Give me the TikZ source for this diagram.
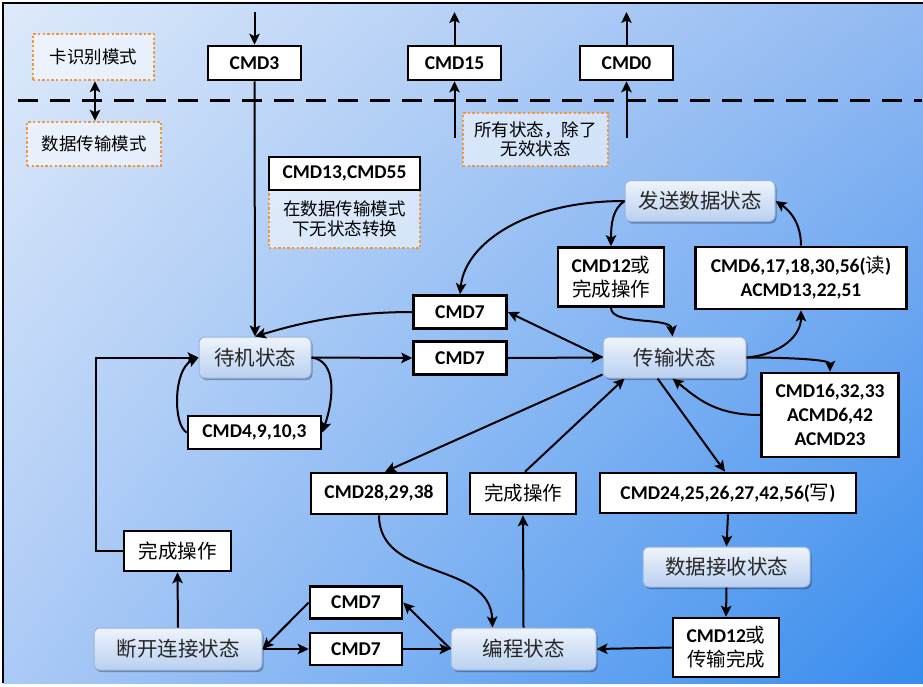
\documentclass[tikz,border=0pt]{standalone}
\usepackage{fontspec}
\setmainfont{Carlito}
\newfontfamily\cjk{Noto Sans CJK SC}
\newcommand\zh[1]{{\cjk\mdseries #1}}
\usetikzlibrary{arrows.meta,shadows,calc,shadings}
\definecolor{bgUL}{RGB}{222,234,250}
\definecolor{bgUR}{RGB}{145,185,242}
\definecolor{bgLL}{RGB}{172,202,246}
\definecolor{bgLR}{RGB}{55,140,238}
\definecolor{sttop}{RGB}{238,244,252}
\definecolor{stbot}{RGB}{186,208,240}
\definecolor{stbord}{RGB}{150,180,222}
\definecolor{notec}{RGB}{242,150,60}
\begin{document}
\begin{tikzpicture}[x=1pt,y=-1pt,
  lab/.style={draw=black, line width=2.6pt, fill=white, inner sep=0pt, align=center,
    font=\bfseries\fontsize{19.5}{24}\selectfont},
  state/.style={rounded corners=6pt, draw=stbord, line width=1pt, top color=sttop, bottom color=stbot,
    drop shadow={shadow xshift=1.5pt,shadow yshift=-2pt,opacity=0.3,fill=black},
    inner sep=0pt, font=\cjk\fontsize{20.5}{24}\selectfont, text=black!85},
  note/.style={draw=notec, line width=2.4pt, dash pattern=on 2.4pt off 2.2pt, fill=white,
    fill opacity=0.55, text opacity=1, inner sep=0pt, align=center,
    font=\cjk\fontsize{17.5}{19.5}\selectfont},
  arr/.style={line width=2pt, -{Stealth[length=11pt,width=10.5pt,inset=2.5pt]}},
  dbl/.style={line width=2pt, {Stealth[length=11pt,width=10.5pt,inset=2.5pt]}-{Stealth[length=11pt,width=10.5pt,inset=2.5pt]}}
]
\useasboundingbox (0,0) rectangle (923,686);
\fill[white] (0,0) rectangle (923,686);
\shade[upper left=bgUL, upper right=bgUR, lower left=bgLL, lower right=bgLR] (3,3) rectangle (923,683);
\draw[line width=1.5pt] (3,683) -- (3,3) -- (923,3);

% mode separator
\draw[line width=3pt, dash pattern=on 20pt off 12pt] (18,100) -- (922,100);

% notes
\node[note, minimum width=121pt, minimum height=46pt] (mcard) at (93.5,57) {卡识别模式};
\node[note, minimum width=134pt, minimum height=44pt] (mdata) at (94,144) {数据传输模式};
\draw[dbl] ($(mcard.south)+(1.5,0)$) -- ($(mdata.north)+(1,0)$);
\node[note, minimum width=145pt, minimum height=53pt] (allst) at (535.5,139.5) {所有状态，除了\\无效状态};
\node[note, minimum width=151pt, minimum height=58pt] (nost) at (344.5,219) {在数据传输模式\\下无状态转换};
\node[lab, minimum width=151pt, minimum height=33pt] (c1355) at (344.5,173.5) {CMD13,CMD55};

% states
\node[state, minimum width=150pt, minimum height=41pt] (send) at (700,201) {发送数据状态};
\node[state, minimum width=143pt, minimum height=41pt] (trans) at (674.5,357.5) {传输状态};
\node[state, minimum width=112pt, minimum height=41pt] (standby) at (255,357.5) {待机状态};
\node[state, minimum width=167pt, minimum height=40pt] (recv) at (726.5,567) {数据接收状态};
\node[state, minimum width=145pt, minimum height=42pt] (prog) at (523.5,649) {编程状态};
\node[state, minimum width=168pt, minimum height=42pt] (disc) at (178,649) {断开连接状态};

% top commands
\node[lab, minimum width=93pt, minimum height=34pt] (cmd3) at (254.5,63) {CMD3};
\node[lab, minimum width=93pt, minimum height=34pt] (cmd15) at (454.5,63) {CMD15};
\node[lab, minimum width=93pt, minimum height=34pt] (cmd0) at (626.5,63) {CMD0};
\coordinate (t3) at (254.5,12);
\coordinate (t15) at (454.5,12);
\coordinate (b15) at (454.5,138);
\coordinate (t0) at (626.5,12);
\coordinate (b0) at (626.5,138);
\draw[arr] (t3) -- (cmd3.north);
\draw[arr] (cmd3.south) -- (standby.north);
\draw[arr] (b15) -- (cmd15.south);
\draw[arr] (cmd15.north) -- (t15);
\draw[arr] (b0) -- (cmd0.south);
\draw[arr] (cmd0.north) -- (t0);

% label boxes
\node[lab, minimum width=93pt, minimum height=33pt] (c7a) at (460,312) {CMD7};
\node[lab, minimum width=93pt, minimum height=33pt] (c7b) at (460,358) {CMD7};
\node[lab, minimum width=106pt, minimum height=59pt] (c12a) at (611,277) {CMD12\zh{或}\\\zh{完成操作}};
\node[lab, minimum width=211pt, minimum height=62pt] (c6) at (801,278) {CMD6,17,18,30,56(\zh{读})\\ACMD13,22,51};
\node[lab, minimum width=137pt, minimum height=84pt] (c16) at (830,415) {CMD16,32,33\\ACMD6,42\\ACMD23};
\node[lab, minimum width=133pt, minimum height=33pt] (c4) at (254.5,432.5) {CMD4,9,10,3};
\node[lab, minimum width=136pt, minimum height=41pt] (c28) at (379,493.5) {CMD28,29,38};
\node[lab, minimum width=106pt, minimum height=41pt] (done2) at (523,493.5) {\zh{完成操作}};
\node[lab, minimum width=256pt, minimum height=40pt] (c24) at (728,493) {CMD24,25,26,27,42,56(\zh{写})};
\node[lab, minimum width=107pt, minimum height=40pt] (done1) at (177.5,551) {\zh{完成操作}};
\node[lab, minimum width=92pt, minimum height=32pt] (c7c) at (356,602.5) {CMD7};
\node[lab, minimum width=92pt, minimum height=32pt] (c7d) at (356,649) {CMD7};
\node[lab, minimum width=106pt, minimum height=59pt] (c12b) at (726,647.5) {CMD12\zh{或}\\\zh{传输完成}};

% connectors
\draw[arr] (standby.east) -- (c7b.west);
\draw[arr] (c7b.east) -- (trans.west);
\draw[arr] (trans.west) -- (c7a.east);
\draw[arr] (c7a.west) .. controls +(-70,0) and +(40,-12) .. (standby.north);
\draw[arr] (standby.east) .. controls +(25,3) and +(12,-35) .. (c4.east);
\draw[arr] (c4.west) .. controls +(-14,-8) and +(-25,12) .. (standby.west);
\draw[arr] (done1.west) -- ++(-27,0) |- (standby.west);
\draw[arr] (disc.north) -- (done1.south);
\draw[arr] (disc.east) -- (c7d.west);
\draw[arr] (c7d.east) -- (prog.west);
\draw[arr] (prog.west) -- (c7c.east);
\draw[arr] (c7c.west) -- (disc.east);
\draw[arr] ($(trans.south west)+(0,-4)$) -- ($(c28.north)+(6,0)$);
\draw[arr] (c28.south) .. controls +(0,66) and +(-2,-67) .. ($(prog.north)+(-31,0)$);
\draw[arr] (prog.north) -- (done2.south);
\draw[arr] ($(done2.north)+(2,0)$) -- ($(trans.south west)+(22,0)$);
\draw[arr] ($(trans.south)+(-17,0)$) -- ($(c24.north)+(-3,0)$);
\draw[arr] (c24.south) -- (recv.north);
\draw[arr] (recv.south) -- (c12b.north);
\draw[arr] (c12b.west) -- (prog.east);
\draw[arr] (trans.east) .. controls +(35,-3) and +(0,25) .. (c6.south);
\draw[arr] (c6.north) .. controls +(0,-25) and +(12,8) .. (send.east);
\draw[arr] (send.west) .. controls +(-12,8) and +(0,-22) .. (c12a.north);
\draw[arr] (send.west) .. controls +(-100,0) and +(5,-50) .. (c7a.north);
\draw[arr] (c12a.south) .. controls +(0,18) and +(-2,-20) .. ($(trans.north)+(-2,0)$);
\draw[arr] (trans.east) .. controls +(45,0) and +(0,-12) .. (c16.north);
\draw[arr] (c16.west) .. controls +(-45,0) and +(25,20) .. ($(trans.south)+(-2,0)$);
\end{tikzpicture}
\end{document}
